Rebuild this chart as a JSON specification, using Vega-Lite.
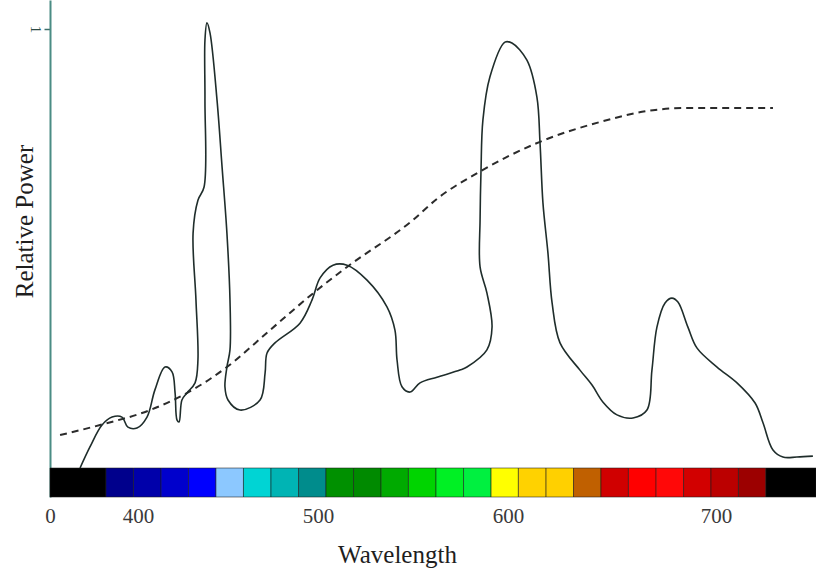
{
  "$schema": "https://vega.github.io/schema/vega-lite/v6.json",
  "width": 766,
  "height": 497,
  "autosize": "none",
  "padding": {"left": 50, "top": 0, "right": 0, "bottom": 80},
  "background": "white",
  "config": {
    "view": {"stroke": null},
    "font": "Liberation Serif"
  },
  "datasets": {
    "spectrum": [
      {"i": 1, "wl": 367.8, "power": 0.0},
      {"i": 2, "wl": 373.3, "power": 0.048},
      {"i": 3, "wl": 380.0, "power": 0.098},
      {"i": 4, "wl": 385.6, "power": 0.116},
      {"i": 5, "wl": 391.1, "power": 0.116},
      {"i": 6, "wl": 394.4, "power": 0.093},
      {"i": 7, "wl": 399.4, "power": 0.091},
      {"i": 8, "wl": 405.0, "power": 0.116},
      {"i": 9, "wl": 409.4, "power": 0.178},
      {"i": 10, "wl": 415.0, "power": 0.23},
      {"i": 11, "wl": 418.9, "power": 0.219},
      {"i": 12, "wl": 420.6, "power": 0.171},
      {"i": 13, "wl": 421.7, "power": 0.109},
      {"i": 14, "wl": 422.8, "power": 0.105},
      {"i": 15, "wl": 424.4, "power": 0.155},
      {"i": 16, "wl": 427.2, "power": 0.171},
      {"i": 17, "wl": 431.7, "power": 0.194},
      {"i": 18, "wl": 433.3, "power": 0.246},
      {"i": 19, "wl": 432.2, "power": 0.383},
      {"i": 20, "wl": 430.6, "power": 0.535},
      {"i": 21, "wl": 433.3, "power": 0.61},
      {"i": 22, "wl": 436.7, "power": 0.64},
      {"i": 23, "wl": 437.2, "power": 0.838},
      {"i": 24, "wl": 437.2, "power": 0.975},
      {"i": 25, "wl": 438.3, "power": 1.014},
      {"i": 26, "wl": 440.0, "power": 0.991},
      {"i": 27, "wl": 443.9, "power": 0.838},
      {"i": 28, "wl": 446.7, "power": 0.686},
      {"i": 29, "wl": 449.4, "power": 0.535},
      {"i": 30, "wl": 451.1, "power": 0.383},
      {"i": 31, "wl": 451.1, "power": 0.269},
      {"i": 32, "wl": 449.4, "power": 0.23},
      {"i": 33, "wl": 448.3, "power": 0.185},
      {"i": 34, "wl": 450.0, "power": 0.155},
      {"i": 35, "wl": 456.7, "power": 0.132},
      {"i": 36, "wl": 467.8, "power": 0.155},
      {"i": 37, "wl": 470.6, "power": 0.216},
      {"i": 38, "wl": 471.7, "power": 0.262},
      {"i": 39, "wl": 476.1, "power": 0.285},
      {"i": 40, "wl": 490.0, "power": 0.33},
      {"i": 41, "wl": 496.7, "power": 0.383},
      {"i": 42, "wl": 501.1, "power": 0.433},
      {"i": 43, "wl": 507.9, "power": 0.462},
      {"i": 44, "wl": 515.3, "power": 0.462},
      {"i": 45, "wl": 525.8, "power": 0.428},
      {"i": 46, "wl": 536.3, "power": 0.367},
      {"i": 47, "wl": 540.5, "power": 0.314},
      {"i": 48, "wl": 541.6, "power": 0.246},
      {"i": 49, "wl": 544.2, "power": 0.185},
      {"i": 50, "wl": 548.4, "power": 0.173},
      {"i": 51, "wl": 553.7, "power": 0.194},
      {"i": 52, "wl": 562.6, "power": 0.207},
      {"i": 53, "wl": 574.7, "power": 0.223},
      {"i": 54, "wl": 578.4, "power": 0.23},
      {"i": 55, "wl": 588.9, "power": 0.269},
      {"i": 56, "wl": 591.6, "power": 0.321},
      {"i": 57, "wl": 588.9, "power": 0.399},
      {"i": 58, "wl": 585.3, "power": 0.458},
      {"i": 59, "wl": 585.3, "power": 0.565},
      {"i": 60, "wl": 585.8, "power": 0.679},
      {"i": 61, "wl": 586.8, "power": 0.793},
      {"i": 62, "wl": 590.5, "power": 0.891},
      {"i": 63, "wl": 598.4, "power": 0.97},
      {"i": 64, "wl": 601.9, "power": 0.968},
      {"i": 65, "wl": 609.1, "power": 0.929},
      {"i": 66, "wl": 613.9, "power": 0.845},
      {"i": 67, "wl": 615.4, "power": 0.74},
      {"i": 68, "wl": 616.8, "power": 0.604},
      {"i": 69, "wl": 619.2, "power": 0.49},
      {"i": 70, "wl": 621.2, "power": 0.376},
      {"i": 71, "wl": 625.0, "power": 0.285},
      {"i": 72, "wl": 634.6, "power": 0.223},
      {"i": 73, "wl": 640.4, "power": 0.189},
      {"i": 74, "wl": 645.7, "power": 0.15},
      {"i": 75, "wl": 652.4, "power": 0.121},
      {"i": 76, "wl": 660.1, "power": 0.114},
      {"i": 77, "wl": 666.8, "power": 0.132},
      {"i": 78, "wl": 669.2, "power": 0.223},
      {"i": 79, "wl": 671.6, "power": 0.321},
      {"i": 80, "wl": 675.5, "power": 0.376},
      {"i": 81, "wl": 678.8, "power": 0.387},
      {"i": 82, "wl": 681.7, "power": 0.378},
      {"i": 83, "wl": 686.5, "power": 0.321},
      {"i": 84, "wl": 690.9, "power": 0.273},
      {"i": 85, "wl": 700.5, "power": 0.23},
      {"i": 86, "wl": 710.1, "power": 0.194},
      {"i": 87, "wl": 718.8, "power": 0.148},
      {"i": 88, "wl": 722.6, "power": 0.103},
      {"i": 89, "wl": 727.4, "power": 0.041},
      {"i": 90, "wl": 732.2, "power": 0.025},
      {"i": 91, "wl": 738.9, "power": 0.025},
      {"i": 92, "wl": 746.6, "power": 0.027}
    ],
    "sensitivity": [
      {"i": 1, "wl": 356.7, "power": 0.075},
      {"i": 2, "wl": 378.9, "power": 0.098},
      {"i": 3, "wl": 406.7, "power": 0.132},
      {"i": 4, "wl": 425.0, "power": 0.166},
      {"i": 5, "wl": 449.4, "power": 0.23},
      {"i": 6, "wl": 473.3, "power": 0.314},
      {"i": 7, "wl": 499.4, "power": 0.405},
      {"i": 8, "wl": 515.3, "power": 0.458},
      {"i": 9, "wl": 550.0, "power": 0.565},
      {"i": 10, "wl": 562.6, "power": 0.613},
      {"i": 11, "wl": 584.7, "power": 0.674},
      {"i": 12, "wl": 615.4, "power": 0.743},
      {"i": 13, "wl": 644.2, "power": 0.788},
      {"i": 14, "wl": 669.7, "power": 0.815},
      {"i": 15, "wl": 686.1, "power": 0.82},
      {"i": 16, "wl": 727.4, "power": 0.82}
    ],
    "bands": [
      {"band": "b00", "start": 351.1, "end": 382.2},
      {"band": "b01", "start": 382.2, "end": 397.5},
      {"band": "b02", "start": 397.5, "end": 412.8},
      {"band": "b03", "start": 412.8, "end": 428.1},
      {"band": "b04", "start": 428.1, "end": 443.3},
      {"band": "b05", "start": 443.3, "end": 458.6},
      {"band": "b06", "start": 458.6, "end": 473.9},
      {"band": "b07", "start": 473.9, "end": 489.2},
      {"band": "b08", "start": 489.2, "end": 504.2},
      {"band": "b09", "start": 504.2, "end": 518.7},
      {"band": "b10", "start": 518.7, "end": 533.2},
      {"band": "b11", "start": 533.2, "end": 547.6},
      {"band": "b12", "start": 547.6, "end": 562.1},
      {"band": "b13", "start": 562.1, "end": 576.6},
      {"band": "b14", "start": 576.6, "end": 591.1},
      {"band": "b15", "start": 591.1, "end": 605.0},
      {"band": "b16", "start": 605.0, "end": 618.3},
      {"band": "b17", "start": 618.3, "end": 631.5},
      {"band": "b18", "start": 631.5, "end": 644.7},
      {"band": "b19", "start": 644.7, "end": 657.9},
      {"band": "b20", "start": 657.9, "end": 671.2},
      {"band": "b21", "start": 671.2, "end": 684.4},
      {"band": "b22", "start": 684.4, "end": 697.6},
      {"band": "b23", "start": 697.6, "end": 710.8},
      {"band": "b24", "start": 710.8, "end": 724.0},
      {"band": "b25", "start": 724.0, "end": 748.1}
    ]
  },
  "layer": [
    {
      "data": {"name": "bands"},
      "mark": {"type": "rect", "stroke": "#1a1a1a", "strokeWidth": 1, "strokeOpacity": 0.55},
      "encoding": {
        "x": {
          "field": "start", "type": "quantitative",
          "scale": {"domain": [351.1, 400, 500, 600, 700, 748.1], "range": [0, 88, 268, 458, 666, 766], "nice": false, "zero": false},
          "axis": {
            "values": [351.1, 400, 500, 600, 700],
            "labelExpr": "datum.value < 380 ? '0' : format(datum.value, 'd')",
            "labelFlush": false,
            "labelBound": false,
            "domain": false,
            "ticks": false,
            "grid": false,
            "labelFont": "Liberation Serif",
            "labelFontSize": 21,
            "labelColor": "#3a3a3a",
            "labelPadding": 8,
            "title": "Wavelength",
            "titleFont": "Liberation Serif",
            "titleFontSize": 25,
            "titleFontWeight": "normal",
            "titleColor": "#1e1e1e",
            "titleX": 347,
            "titleY": 65,
            "titleAlign": "center",
            "titleBaseline": "alphabetic"
          }
        },
        "x2": {"field": "end"},
        "y": {
          "datum": 0, "type": "quantitative",
          "scale": {"domain": [-0.066, 1.066], "nice": false, "zero": false},
          "axis": {
            "values": [1],
            "format": "d",
            "grid": false,
            "domainColor": "#4a8c84",
            "domainWidth": 2,
            "tickColor": "#3f6f6a",
            "tickSize": 6,
            "tickWidth": 1.5,
            "labelAngle": 90,
            "labelAlign": "center",
            "labelBaseline": "top",
            "labelPadding": 2,
            "labelFont": "Liberation Serif",
            "labelFontSize": 15,
            "labelColor": "#2c4a46",
            "title": "Relative Power",
            "titleFont": "Liberation Serif",
            "titleFontSize": 25,
            "titleFontWeight": "normal",
            "titleColor": "#1e1e1e",
            "titleAngle": -90,
            "titleX": -18,
            "titleY": 221,
            "titleAlign": "center",
            "titleBaseline": "alphabetic"
          }
        },
        "y2": {"datum": -0.066},
        "color": {
          "field": "band", "type": "nominal", "legend": null,
          "scale": {
            "domain": ["b00","b01","b02","b03","b04","b05","b06","b07","b08","b09","b10","b11","b12","b13","b14","b15","b16","b17","b18","b19","b20","b21","b22","b23","b24","b25"],
            "range": ["#000000","#00008c","#0000aa","#0000cc","#0000ff","#8cc8ff","#00d4d4","#00b4b4","#008c8c","#009000","#008a00","#00aa00","#00d400","#00f024","#00f040","#ffff00","#ffd200","#ffd000","#c06000","#d00000","#ff0000","#ff0808","#d20000","#bb0000","#9c0000","#000000"]
          }
        }
      }
    },
    {
      "data": {"name": "sensitivity"},
      "mark": {"type": "line", "interpolate": "monotone", "stroke": "#2b2b2b", "strokeWidth": 2, "strokeDash": [7, 5]},
      "encoding": {
        "x": {"field": "wl", "type": "quantitative"},
        "y": {"field": "power", "type": "quantitative"},
        "order": {"field": "i", "type": "quantitative"}
      }
    },
    {
      "data": {"name": "spectrum"},
      "mark": {"type": "line", "interpolate": "catmull-rom", "stroke": "#1f2d2b", "strokeWidth": 1.6},
      "encoding": {
        "x": {"field": "wl", "type": "quantitative"},
        "y": {"field": "power", "type": "quantitative"},
        "order": {"field": "i", "type": "quantitative"}
      }
    }
  ]
}
